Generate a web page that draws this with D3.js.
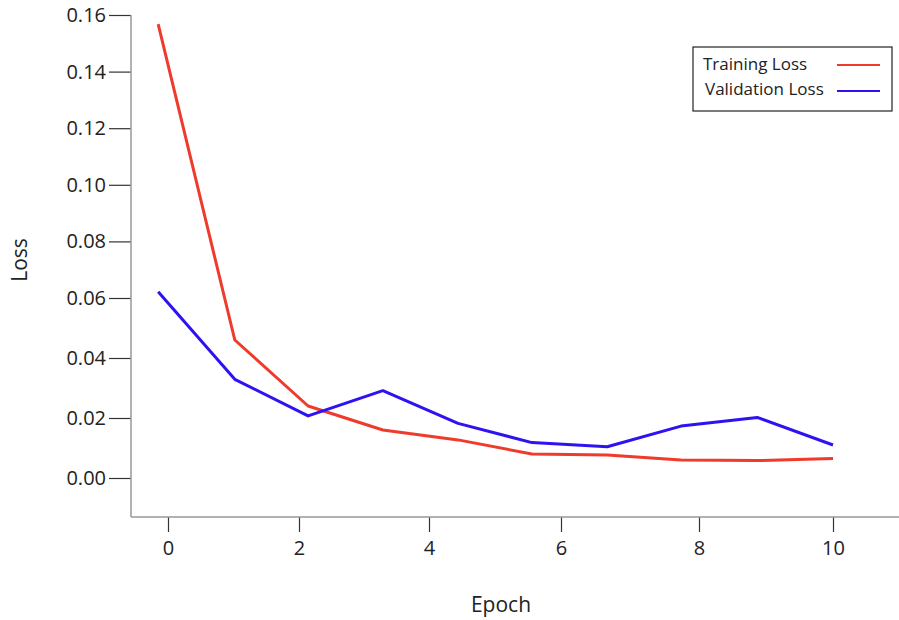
<!DOCTYPE html>
<html>
<head>
<meta charset="utf-8">
<script src="https://cdn.jsdelivr.net/npm/d3@7"></script>
<style>
  body { margin: 0; background: #fff; }
  text { font-family: "Open Sans", sans-serif; fill: #222; }
</style>
</head>
<body>
<div id="chart"></div>
<script>
var w = 899;
var h = 620;

// values
var epochs = [-0.15, 1.02, 2.14, 3.29, 4.44, 5.56, 6.67, 7.74, 8.87, 10.0];
var trainingLoss = [0.1568, 0.046, 0.024, 0.016, 0.0127, 0.008, 0.0077, 0.006, 0.0058, 0.0065];
var validationLoss = [0.0622, 0.0329, 0.0207, 0.0291, 0.0182, 0.0118, 0.0104, 0.0173, 0.0202, 0.011];
var xTicks = [0, 2, 4, 6, 8, 10];
var yTicks = [0, 0.02, 0.04, 0.06, 0.08, 0.10, 0.12, 0.14, 0.16];
var seriesNames = ['Training Loss', 'Validation Loss'];
var seriesColors = ['#ee3b2b', '#2e12f2'];

var svg = d3.select('#chart')
  .append('svg')
  .attr('width', w)
  .attr('height', h);

// the source picture's axes are not quite even, so use piecewise scales
var x = d3.scaleLinear()
  .domain([0, 2, 4, 6, 8, 10])
  .range([168, 299, 429, 561, 699, 833]);

var y = d3.scaleLinear()
  .domain([0, 0.06, 0.16])
  .range([478, 298, 15]);

var axisX0 = 131;
var axisY0 = 517;

// y axis
var yAxis = svg.append('g')
  .attr('transform', 'translate(' + axisX0 + ',0)')
  .call(d3.axisLeft(y).tickValues(yTicks).tickFormat(d3.format('.2f')).tickSize(22).tickPadding(3));
yAxis.select('.domain').remove();
yAxis.selectAll('.tick line').attr('stroke', '#333').attr('stroke-width', 1.2);
yAxis.selectAll('.tick text').style('font-size', '20px').attr('fill', '#222');
svg.append('line')
  .attr('x1', axisX0).attr('x2', axisX0)
  .attr('y1', y(0.16)).attr('y2', axisY0)
  .attr('stroke', '#999').attr('stroke-width', 1.5);

// x axis
var xAxis = svg.append('g')
  .attr('transform', 'translate(0,' + axisY0 + ')')
  .call(d3.axisBottom(x).tickValues(xTicks).tickSize(15).tickPadding(9));
xAxis.select('.domain').remove();
xAxis.selectAll('.tick line').attr('stroke', '#333').attr('stroke-width', 1.2);
xAxis.selectAll('.tick text').style('font-size', '20px').attr('fill', '#222');
svg.append('line')
  .attr('x1', axisX0).attr('x2', w)
  .attr('y1', axisY0).attr('y2', axisY0)
  .attr('stroke', '#999').attr('stroke-width', 1.5);

// axis titles
svg.append('text')
  .attr('x', 501).attr('y', 612)
  .attr('text-anchor', 'middle')
  .style('font-size', '21px')
  .text('Epoch');

svg.append('text')
  .attr('transform', 'translate(27,260) rotate(-90)')
  .attr('text-anchor', 'middle')
  .style('font-size', '21px')
  .text('Loss');

// lines
var line = d3.line()
  .x(function(d) { return x(d[0]); })
  .y(function(d) { return y(d[1]); });

var seriesValues = [trainingLoss, validationLoss];
for (var i = 0; i < seriesValues.length; i++) {
  svg.append('path')
    .datum(d3.zip(epochs, seriesValues[i]))
    .attr('fill', 'none')
    .attr('stroke', seriesColors[i])
    .attr('stroke-width', 3)
    .attr('stroke-linejoin', 'round')
    .attr('d', line);
}

// legend
var legend = svg.append('g').attr('transform', 'translate(693,47)');
legend.append('rect')
  .attr('width', 199).attr('height', 64)
  .attr('fill', '#fff').attr('stroke', '#222').attr('stroke-width', 1.2);

for (var j = 0; j < seriesNames.length; j++) {
  legend.append('text')
    .attr('x', 10 + j * 2).attr('y', 23 + j * 25)
    .style('font-size', '17px')
    .text(seriesNames[j]);
  legend.append('line')
    .attr('x1', 144).attr('x2', 187)
    .attr('y1', 18 + j * 26).attr('y2', 18 + j * 26)
    .attr('stroke', seriesColors[j])
    .attr('stroke-width', 2);
}
</script>
</body>
</html>
